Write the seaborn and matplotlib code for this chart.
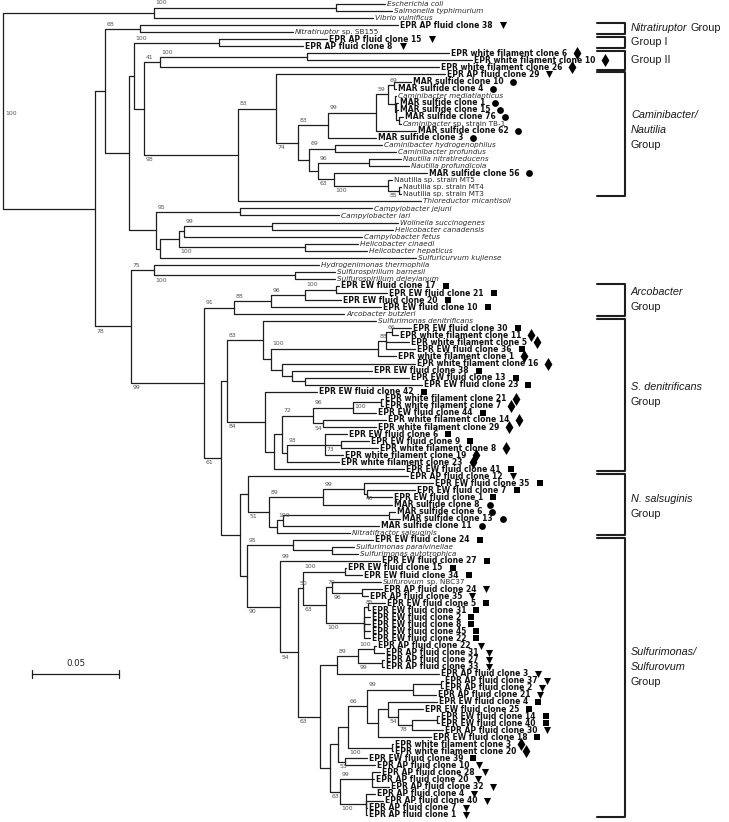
import matplotlib
matplotlib.use("Agg")
import numpy as np
import pandas as pd
import seaborn as sns
import matplotlib.pyplot as plt
from matplotlib import font_manager

# tree pieces in Newick form (branch lengths in substitutions per site, bootstrap as node labels)
OUTGROUP = "((Escherichia coli:0.0282,Salmonella typhimurium:0.0322)100:0.1046,Vibrio vulnificus:0.1259):0.0868"
NITRATIRUPTOR = "(EPR AP fluid clone 38:0.1483,Nitratiruptor sp. SB155:0.0879)68:0.0201"
GROUP_1 = "(EPR AP fluid clone 15:0.0621,EPR AP fluid clone 8:0.0483)100:0.0489"
GROUP_2 = ("((EPR white filament clone 6:0.0816,EPR white filament clone 10:0.0948)100:0.0845,"
           "EPR white filament clone 26:0.1603)41:0.0092")
CAMINIBACTER = ("((MAR sulfide clone 10:0.0098,MAR sulfide clone 4:0.0011)69:0.0034,"
                "(Caminibacter mediatlanticus:0.0006,(MAR sulfide clone 1:0.0011,MAR sulfide clone 15:0.0011,"
                "(MAR sulfide clone 76:0.0023,Caminibacter sp. strain TB-1:0.0011):0.0017):0.0006):0.0040)59:0.0069")
NAUTILIA = ("((Caminibacter hydrogenophilus:0.0270,Caminibacter profundus:0.0351)69:0.0149,"
            "((Nautilia nitratireducens:0.0184,Nautilia profundicola:0.0230)96:0.0293,"
            "(MAR sulfide clone 56:0.0534,(Nautilia sp. strain MT5:0.0023,"
            "(Nautilia sp. strain MT4:0.0011,Nautilia sp. strain MT3:0.0011)85:0.0063)100:0.0310)63:0.0092):0.0052):0.0063")
CAMPYLOBACTER = ("((Campylobacter jejuni:0.0759,Campylobacter lari:0.0569)95:0.0483,"
                 "((((Wolinella succinogenes:0.0724,Helicobacter canadensis:0.0695)99:0.0506,Campylobacter fetus:0.1023):0.0029,"
                 "(Helicobacter cinaedi:0.0305,Helicobacter hepaticus:0.0356)100:0.0724):0.0109,"
                 "Sulfuricurvum kujiense:0.1471):0.0023):0.0155")
SULFUROSPIRILLUM = ("(Hydrogenimonas thermophila:0.0948,(Sulfurospirillum barnesii:0.0230,"
                    "Sulfurospirillum deleyianum:0.0230)100:0.0810)75:0.0132")
ARCOBACTER = ("((((EPR EW fluid clone 17:0.0017,EPR EW fluid clone 21:0.0293)100:0.0178,EPR EW fluid clone 20:0.0207)96:0.0195,"
              "EPR EW fluid clone 10:0.0632)88:0.0213,Arcobacter butzleri:0.0632)91:0.0172")
DENITRIFICANS_A = ("(Sulfurimonas denitrificans:0.0649,((((EPR EW fluid clone 30:0.0109,EPR white filament clone 11:0.0034)66:0.0034,"
                   "EPR white filament clone 5:0.0132,EPR EW fluid clone 36:0.0167)88:0.0046,EPR white filament clone 1:0.0103)100:0.0615,"
                   "(EPR white filament clone 16:0.0764,(EPR EW fluid clone 38:0.0460,(EPR EW fluid clone 13:0.0598,"
                   "EPR EW fluid clone 23:0.0672):0.0075):0.0057):0.0063):0.0046)83:0.0207")
DENITRIFICANS_B = ("(EPR EW fluid clone 42:0.0299,(((((EPR white filament clone 21:0.0011,EPR white filament clone 7:0.0011)100b:0.0161,"
                   "EPR EW fluid clone 44:0.0132)96:0.0230,(EPR white filament clone 14:0.0362,EPR white filament clone 29:0.0305)54:0.0057)72:0.0178,"
                   "((EPR EW fluid clone 6:0.0126,(EPR EW fluid clone 9:0.0161,EPR white filament clone 8:0.0213)73:0.0092,"
                   "EPR white filament clone 19:0.0103)93:0.0218,EPR white filament clone 23:0.0299):0.0029):0.0046,"
                   "EPR EW fluid clone 41:0.0747):0.0052)84:0.0218")
SALSUGINIS = ("(EPR AP fluid clone 12:0.0920,(((EPR EW fluid clone 35:0.0397,(EPR EW fluid clone 7:0.0276,EPR EW fluid clone 1:0.0144)40:0.0017)99:0.0236,"
              "MAR sulfide clone 8:0.0397)89:0.0310,(((MAR sulfide clone 6:0.0034,MAR sulfide clone 13:0.0063):0.0609,"
              "MAR sulfide clone 11:0.0552)100:0.0034,Nitratifractor salsuginis:0.0420):0.0046)51:0.0121):0.0046")
SULFURIMONAS = ("(EPR EW fluid clone 24:0.0460,(Sulfurimonas paralvinellae:0.0126,Sulfurimonas autotrophica:0.0149):0.0224)95:0.0264")
SULFUROVUM_A = ("((EPR EW fluid clone 15:0.0006,EPR EW fluid clone 34:0.0098)100:0.0241,((Sulfurovum sp. NBC37:0.0282,"
                "(EPR AP fluid clone 24:0.0115,EPR AP fluid clone 35:0.0034)96:0.0172)70:0.0034,((EPR EW fluid clone 5:0.0098,"
                "EPR EW fluid clone 31:0.0011)85:0.0023,EPR EW fluid clone 2:0.0034,EPR EW fluid clone 8:0.0034,"
                "EPR EW fluid clone 45:0.0034,EPR EW fluid clone 22:0.0034)100:0.0218)63:0.0132)50:0.0029")
SULFUROVUM_B = ("(((EPR AP fluid clone 22:0.0011,EPR AP fluid clone 31:0.0057)100:0.0092,(EPR AP fluid clone 27:0.0011,"
                "EPR AP fluid clone 33:0.0011)99:0.0138)89:0.0121,EPR AP fluid clone 3:0.0586):0.0098")
SULFUROVUM_C = ("(((((EPR AP fluid clone 37:0.0011,EPR AP fluid clone 2:0.0011):0.0161,EPR AP fluid clone 21:0.0132)99:0.0264,"
                "((EPR EW fluid clone 4:0.0282,(EPR EW fluid clone 25:0.0144,((EPR EW fluid clone 14:0.0011,EPR EW fluid clone 40:0.0011):0.0149,"
                "EPR AP fluid clone 30:0.0178)78:0.0080)54:0.0057):0.0057,EPR EW fluid clone 18:0.0305):0.0063)66:0.0109,"
                "(EPR white filament clone 3:0.0006,EPR white filament clone 20:0.0006)100:0.0253):0.0057,"
                "(EPR EW fluid clone 39:0.0126,EPR AP fluid clone 10:0.0172)53:0.0040):0.0046")
SULFUROVUM_D = ("((EPR AP fluid clone 28:0.0046,EPR AP fluid clone 20:0.0011,EPR AP fluid clone 32:0.0098)99:0.0184,"
                "(EPR AP fluid clone 4:0.0052,EPR AP fluid clone 40:0.0098,EPR AP fluid clone 7:0.0006,"
                "EPR AP fluid clone 1:0.0006)100:0.0149)63:0.0057")

ROOT_SUPPORT = "100"
LEAF_SUPPORT = {"EPR EW fluid clone 27": "99"}

# group brackets: first and last leaf (top to bottom order) and the label lines
GROUP_LEAVES = [(3, 4), (5, 6), (7, 9), (10, 27), (40, 44), (45, 66), (67, 75), (76, 115)]
GROUP_LINES = [
    [[("Nitratiruptor", "italic"), ("Group", "normal")]],
    [[("Group I", "normal")]],
    [[("Group II", "normal")]],
    [[("Caminibacter/", "italic")], [("Nautilia", "italic")], [("Group", "normal")]],
    [[("Arcobacter", "italic")], [("Group", "normal")]],
    [[("S. denitrificans", "italic")], [("Group", "normal")]],
    [[("N. salsuginis", "italic")], [("Group", "normal")]],
    [[("Sulfurimonas/", "italic")], [("Sulfurovum", "italic")], [("Group", "normal")]],
]
SCALE_LEN = 0.05

# assemble the full tree
caminibacter_nautilia = ("(((" + CAMINIBACTER + ",MAR sulfide clone 62:0.0230)99:0.0276,MAR sulfide clone 3:0.0276)83:0.0172,"
                         + NAUTILIA + ")74:0.0126")
clade_j = "(EPR AP fluid clone 29:0.0971," + caminibacter_nautilia + ")83:0.0218"
clade_i = "(" + clade_j + ",Thioreductor micantisoli:0.1052)98:0.0540"
clade_g = "(" + GROUP_2 + "," + clade_i + "):0.0057"
clade_e = "(" + GROUP_1 + "," + clade_g + "):0.0029"
clade_d = "(" + clade_e + "," + CAMPYLOBACTER + "):0.0138"
clade_b = "(" + NITRATIRUPTOR + "," + clade_d + "):0.0057"
sulfurovum = "(" + SULFUROVUM_A + ",(" + SULFUROVUM_B + ",(" + SULFUROVUM_C + "," + SULFUROVUM_D + "):0.0057)63:0.0126)54:0.0103"
lower = ("((" + DENITRIFICANS_A + "," + DENITRIFICANS_B + "):0.0034,(" + SALSUGINIS + ",(" + SULFURIMONAS +
         ",(EPR EW fluid clone 27:0.0575," + sulfurovum + ")90:0.0190):0.0040):0.0109)61:0.0098")
clade_c = "(" + SULFUROSPIRILLUM + ",(" + ARCOBACTER + "," + lower + ")99:0.0420)78:0.0207"
ingroup = "(" + clade_b + "," + clade_c + "):0.0529"
TREE = "(" + OUTGROUP + "," + ingroup + ")" + ROOT_SUPPORT + ";"
assert TREE.count("(") == TREE.count(")")


def parse(s):
    pos = 0

    def node():
        nonlocal pos
        n = {"children": [], "name": "", "support": "", "length": 0.0}
        if s[pos] == "(":
            pos += 1
            n["children"].append(node())
            while s[pos] == ",":
                pos += 1
                n["children"].append(node())
            assert s[pos] == ")"
            pos += 1
        start = pos
        while s[pos] not in ":,);":
            pos += 1
        label = s[start:pos].strip()
        if n["children"]:
            n["support"] = label
        else:
            n["name"] = label
        if s[pos] == ":":
            pos += 1
            start = pos
            while s[pos] not in ",);":
                pos += 1
            n["length"] = float(s[start:pos])
        return n

    return node()


root = parse(TREE)
leaves = []
nodes = []


def place(n, x, parent):
    n["x"] = x
    n["parent"] = parent
    nodes.append(n)
    if not n["children"]:
        n["y"] = len(leaves)
        leaves.append(n)
    else:
        for c in n["children"]:
            place(c, x + c["length"], n)
        n["y"] = (n["children"][0]["y"] + n["children"][-1]["y"]) / 2


place(root, 0.0, None)
assert len(leaves) == 116

# figure geometry: 87 px per 0.05 substitutions, 7.05 px per leaf
W, H = 729, 822
PX = SCALE_LEN / 87
PY = 1 / 7.05

sns.set_theme(style="white")
plt.rcParams["font.family"] = ["DejaVu Sans"]
fig = plt.figure(figsize=(W / 100, H / 100), dpi=100)
ax = fig.add_axes([0, 0, 1, 1])


def frame():
    ax.set_xlim(-3 * PX, (W - 3) * PX)
    ax.set_ylim((H - 4) * PY, -4 * PY)
    ax.set_axis_off()


frame()

# branches as elbows
rows = []
for i, n in enumerate(nodes):
    p = n["parent"]
    if p is None:
        continue
    for x, y in [(p["x"], p["y"]), (p["x"], n["y"]), (n["x"], n["y"])]:
        rows.append({"edge": i, "x": x, "y": y})
edges = pd.DataFrame(rows)
sns.lineplot(data=edges, x="x", y="y", units="edge", estimator=None, sort=False,
             color="#1e1e1e", linewidth=0.9, ax=ax)
frame()

renderer = fig.canvas.get_renderer()
inv = ax.transData.inverted()


def put_pieces(x, y, pieces, size, family=None, color="#111111"):
    cur = x
    for txt, style in pieces:
        kw = dict(fontsize=size, va="center", ha="left", color=color)
        if family:
            kw["family"] = family
        if style == "bold":
            kw["fontweight"] = "bold"
        elif style == "italic":
            kw["fontstyle"] = "italic"
        t = ax.text(cur, y, txt, **kw)
        bb = t.get_window_extent(renderer)
        cur = inv.transform((bb.x1 + size * 0.38, 0))[0]
    return inv.transform((bb.x1, 0))[0]


def tip_pieces(name):
    if name.startswith(("EPR", "MAR")):
        return [(name, "bold")]
    if name.startswith("Nautilia sp."):
        return [(name, "normal")]
    if " sp." in name:
        genus, rest = name.split(" ", 1)
        return [(genus, "italic"), (rest, "normal")]
    return [(name, "italic")]


MARKERS = {"EPR AP fluid": ("v", 26), "EPR EW fluid": ("s", 22),
           "EPR white filament": ("d", 44), "MAR sulfide": ("o", 24)}
mrows = []
for n in leaves:
    pieces = tip_pieces(n["name"])
    bold = pieces[0][1] == "bold"
    end = put_pieces(n["x"] + 2 * PX, n["y"], pieces, 5.5 if bold else 5.2,
                     color="#111111" if bold else "#2a2a2a")
    for key in MARKERS:
        if n["name"].startswith(key):
            mrows.append({"x": end + 10 * PX, "y": n["y"], "kind": key})
marks = pd.DataFrame(mrows)
for key, (m, s) in MARKERS.items():
    sub = marks[marks["kind"] == key]
    sns.scatterplot(data=sub, x="x", y="y", marker=m, s=s, color="black",
                    linewidth=0, legend=False, ax=ax)

# bootstrap values at the start of each supported branch
BS_SIZE = 4.4
for n in nodes:
    sup = n["support"] or LEAF_SUPPORT.get(n["name"], "")
    p = n["parent"]
    if not sup:
        continue
    if p is None:
        ax.text(n["x"] + 2 * PX, n["y"] + 0.45, sup, fontsize=BS_SIZE, color="#555555",
                ha="left", va="center")
        continue
    below = sup.endswith("b") or n is not p["children"][0]
    sup = sup.rstrip("b")
    if below:
        ax.text(p["x"] + 1.5 * PX, n["y"] + 0.3, sup, fontsize=BS_SIZE, color="#555555",
                ha="left", va="top")
    else:
        ax.text(p["x"] + 1.5 * PX, n["y"] - 0.3, sup, fontsize=BS_SIZE, color="#555555",
                ha="left", va="bottom")

# scale bar
sy = (674 - 4) * PY
sx0 = 29 * PX
bar = pd.DataFrame({"x": [sx0, sx0, sx0, sx0 + SCALE_LEN, sx0 + SCALE_LEN, sx0 + SCALE_LEN],
                    "y": [sy - 0.55, sy + 0.55, sy, sy, sy - 0.55, sy + 0.55],
                    "part": [0, 0, 1, 1, 2, 2]})
sns.lineplot(data=bar, x="x", y="y", units="part", estimator=None, sort=False,
             color="#1e1e1e", linewidth=0.9, ax=ax)
ax.text(sx0 + SCALE_LEN / 2, sy - 0.85, f"{SCALE_LEN}", fontsize=6.2, ha="center", va="bottom",
        color="#222222")

# group brackets and names
installed = {f.name for f in font_manager.fontManager.ttflist}
gfam = "Liberation Sans" if "Liberation Sans" in installed else "DejaVu Sans"
gsize = 7.8 if gfam == "Liberation Sans" else 7.0
bx0, bx1, tx = 594 * PX, 622 * PX, 628 * PX
label_y = [3.4, 5.4, 7.9, 17.9, 41.9, 55.4, 71.3, 94.0]
brows = []
for g, (a, b) in enumerate(GROUP_LEAVES):
    top, bot = a - 0.5 + 0.2, b + 0.5 - 0.2
    for x, y in [(bx0, top), (bx1, top), (bx1, bot), (bx0, bot)]:
        brows.append({"g": g, "x": x, "y": y})
    lines = GROUP_LINES[g]
    step = 2.15
    y0 = label_y[g] - step * (len(lines) - 1) / 2
    for k, line in enumerate(lines):
        put_pieces(tx, y0 + k * step, line, gsize, family=gfam, color="#1a1a1a")
brk = pd.DataFrame(brows)
sns.lineplot(data=brk, x="x", y="y", units="g", estimator=None, sort=False,
             color="#1e1e1e", linewidth=1.5, ax=ax)

frame()
fig.savefig("out.png", dpi=100)
